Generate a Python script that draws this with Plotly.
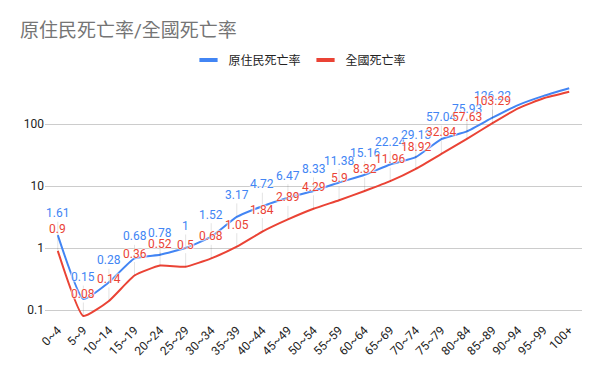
import numpy as np
import plotly.graph_objects as go

categories = ["0~4", "5~9", "10~14", "15~19", "20~24", "25~29", "30~34", "35~39",
              "40~44", "45~49", "50~54", "55~59", "60~64", "65~69", "70~74", "75~79",
              "80~84", "85~89", "90~94", "95~99", "100+"]
indigenous = [1.61, 0.15, 0.28, 0.68, 0.78, 1, 1.52, 3.17, 4.72, 6.47, 8.33, 11.38,
              15.16, 22.24, 29.13, 57.04, 75.93, 126.22, 202, 284, 377]
national = [0.9, 0.08, 0.14, 0.36, 0.52, 0.5, 0.68, 1.05, 1.84, 2.89, 4.29, 5.9,
            8.32, 11.96, 18.92, 32.84, 57.63, 103.29, 179, 260, 331]
labeled_points = 18  # data labels shown for the first 18 age groups

series_names = ["原住民死亡率", "全國死亡率"]
colors = ["#4285F4", "#EA4335"]
font_family = "Roboto, 'Noto Sans CJK TC', sans-serif"

fig = go.Figure()
for name, vals, col in zip(series_names, [indigenous, national], colors):
    fig.add_trace(go.Scatter(
        x=categories, y=vals, mode="lines", name=name, showlegend=False,
        line=dict(color=col, width=2, shape="spline", smoothing=0.45),
        hoverinfo="skip"))
    # legend-only entry with short thick bar
    fig.add_trace(go.Scatter(
        x=[None], y=[None], mode="markers", name=name,
        marker=dict(symbol="line-ew", size=13, color=col,
                    line=dict(color=col, width=4))))

annotations = []
for vals, col in zip([indigenous, national], colors):
    for cat, v in list(zip(categories, vals))[:labeled_points]:
        annotations.append(dict(
            x=cat, y=float(np.log10(v)), xref="x", yref="y",
            text=f"{v:g}", showarrow=True, arrowhead=0, arrowwidth=1,
            arrowcolor="rgba(0,0,0,0.10)", ax=0, ay=-22, standoff=0,
            font=dict(family=font_family, size=12, color=col,
                      shadow="0 0 2px #fff, 0 0 2px #fff, 0 0 2px #fff, 0 0 1px #fff"),
        ))

# the page body adds an 8px offset; figure coordinates = page coordinates - 8
off = 8
W, H = 600 - off, 371 - off
left_px, right_px, top_px, bottom_px = 45 - off, 582 - off, 75 - off, 320 - off
decade_px = 62
y_bottom = -1 - (320 - 310) / decade_px
y_top = 2 + (124 - 75) / decade_px

fig.update_layout(
    width=W, height=H,
    margin=dict(l=left_px, r=W - right_px, t=top_px, b=H - bottom_px, autoexpand=False),
    paper_bgcolor="white", plot_bgcolor="white",
    font=dict(family=font_family, size=12, color="#222"),
    title=dict(text="原住民死亡率/全國死亡率", x=(20 - off) / W, xanchor="left",
               y=1 - (30 - off) / H, yanchor="middle",
               font=dict(size=19, color="#757575", family=font_family)),
    legend=dict(orientation="h", x=(300 - 45) / 537, xanchor="center",
                y=(320 - 60) / (320 - 75), yanchor="middle",
                font=dict(size=12, color="#222"), itemwidth=30,
                bgcolor="rgba(0,0,0,0)"),
    annotations=annotations,
    xaxis=dict(type="category", range=[-0.5, len(categories) - 0.5], tickangle=-45,
               showgrid=False, zeroline=False, automargin=False,
               showline=False, ticks="", tickfont=dict(size=12, color="#222")),
    yaxis=dict(type="log", range=[y_bottom, y_top], tickvals=[0.1, 1, 10, 100],
               ticktext=["0.1", "1", "10", "100"], showgrid=True, automargin=False,
               gridcolor="#cccccc", gridwidth=1, zeroline=False, showline=False,
               ticks="", tickfont=dict(size=12, color="#222")),
)

fig.write_html("out.html")
